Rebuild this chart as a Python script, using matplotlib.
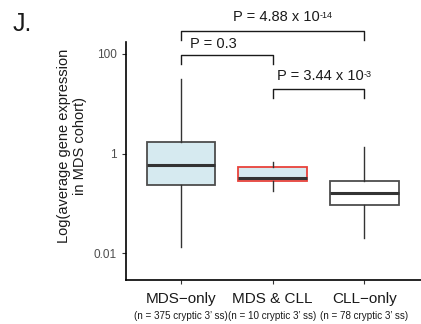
import matplotlib
matplotlib.use("Agg")
import matplotlib.pyplot as plt
import numpy as np

plt.rcParams["font.family"] = ["Liberation Sans", "DejaVu Sans"]

# box statistics
groups = ["MDS\u2212only", "MDS & CLL", "CLL\u2212only"]
counts = ["(n = 375 cryptic 3\u2019 ss)", "(n = 10 cryptic 3\u2019 ss)", "(n = 78 cryptic 3\u2019 ss)"]
whis_lo = [0.013, 0.18, 0.02]
q1 = [0.23, 0.275, 0.093]
med = [0.58, 0.316, 0.162]
q3 = [1.69, 0.54, 0.28]
whis_hi = [31, 0.69, 1.34]
fills = ["#d6eaf0", "#d6eaf0", "#ffffff"]
edges = ["#4d4d4d", "#e8423b", "#4d4d4d"]

# comparisons: (left, right, bracket y, label, exponent)
comparisons = [
    (1, 3, 290, "P = 4.88 x 10", "-14"),
    (1, 2, 96, "P = 0.3", ""),
    (2, 3, 20, "P = 3.44 x 10", "-3"),
]

fig = plt.figure(figsize=(4.21, 3.24), dpi=100)
# axes run a little past the right edge so the x axis line reaches it
ax = fig.add_axes([126 / 421, 44 / 324, 1 - 126 / 421 + 0.03, 238 / 324])

stats = []
for i in range(len(groups)):
    stats.append({"med": med[i], "q1": q1[i], "q3": q3[i],
                  "whislo": whis_lo[i], "whishi": whis_hi[i], "fliers": []})

bp = ax.bxp(stats, positions=[1, 2, 3], widths=0.75, patch_artist=True,
            showcaps=False, showfliers=False)
for i, box in enumerate(bp["boxes"]):
    box.set_facecolor(fills[i])
    box.set_edgecolor(edges[i])
    box.set_linewidth(1.3)
for m in bp["medians"]:
    m.set_color("#333333")
    m.set_linewidth(2.2)
for w in bp["whiskers"]:
    w.set_color("#333333")
    w.set_linewidth(1.0)

ax.set_yscale("log")
ax.set_ylim(10 ** -2.54, 10 ** 2.24)
ax.set_xlim(0.4, 3.62 + 0.03 * 421 / 91.7)
ax.set_yticks([0.01, 1, 100])
ax.set_yticklabels(["0.01", "1", "100"])
ax.minorticks_off()
ax.set_xticks([1, 2, 3])
ax.set_xticklabels([])
ax.tick_params(axis="both", colors="#333333", labelcolor="#4d4d4d",
               labelsize=8.5, length=3, width=0.8)
for side in ["top", "right"]:
    ax.spines[side].set_visible(False)
for side in ["left", "bottom"]:
    ax.spines[side].set_linewidth(1.2)
    ax.spines[side].set_color("black")

# category labels
trans = ax.get_xaxis_transform()
for i in range(len(groups)):
    ax.text(i + 1, -0.08, groups[i], transform=trans, ha="center", va="center",
            fontsize=11, color="#1a1a1a", clip_on=False)
    ax.text(i + 1, -0.152, counts[i], transform=trans, ha="center", va="center",
            fontsize=7.1, color="#1a1a1a", clip_on=False)

# significance brackets
leg = 10 ** 0.18
for x0, x1, y, label, expo in comparisons:
    ax.plot([x0, x0, x1, x1], [y / leg, y, y, y / leg], color="#1a1a1a",
            lw=1.0, clip_on=False)
text_pos = [(1.567, 290 * 10 ** 0.28), (1.098, 96 * 10 ** 0.22),
            (2.047, 20 * 10 ** 0.26)]
for (x, y), (_, _, _, label, expo) in zip(text_pos, comparisons):
    t = ax.text(x, y, label, ha="left", va="center", fontsize=10.5,
                color="#1a1a1a", clip_on=False)
    if expo:
        ax.annotate(expo, xy=(1.0, 0.95), xycoords=t, ha="left", va="top",
                    fontsize=6.5, color="#1a1a1a", annotation_clip=False)

fig.text(72 / 421, 1 - 146 / 324, "Log(average gene expression\nin MDS cohort)",
         rotation=90, ha="center", va="center", fontsize=10.5,
         multialignment="center", color="#1a1a1a", linespacing=1.2)
fig.text(13 / 421, 1 - 24 / 324, "J.", fontsize=18, ha="left", va="center",
         color="#1a1a1a")

fig.savefig("out.png", dpi=100)
